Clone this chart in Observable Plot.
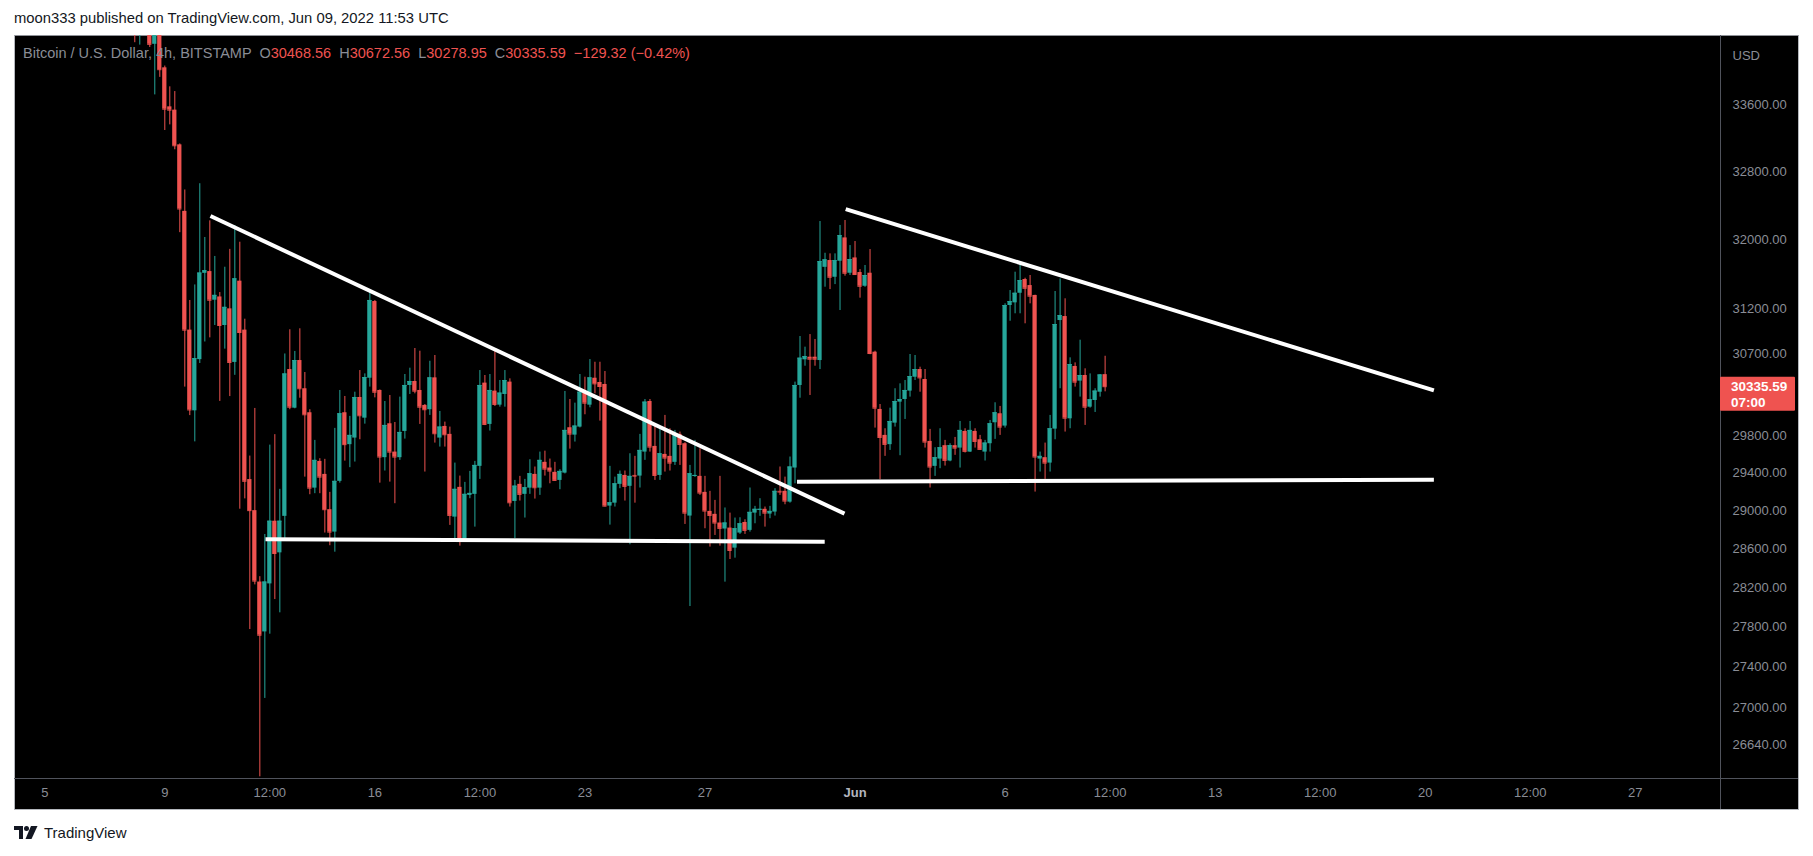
<!DOCTYPE html>
<html>
<head>
<meta charset="utf-8">
<script src="https://cdn.jsdelivr.net/npm/d3@7"></script>
<script src="https://cdn.jsdelivr.net/npm/@observablehq/plot@0.6"></script>
<style>
  html, body { margin: 0; padding: 0; background: #ffffff; overflow: hidden; }
  body { width: 1813px; height: 856px; position: relative; font-family: "Liberation Sans", Arial, sans-serif; }
  #header { position: absolute; left: 14px; top: 9px; font-size: 14.8px; line-height: 18px; color: #131722; white-space: pre; }
  #pane { position: absolute; left: 14px; top: 35px; width: 1783px; height: 773px; background: #000; border: 1px solid #b4b7bd; border-top-color: #8f9298; }
  .divider { position: absolute; background: #50535c; }
  #chart { position: absolute; left: 0; top: 35px; }
  #legend { position: absolute; left: 23px; top: 44px; font-size: 14.5px; line-height: 18px; color: #8a8d96; white-space: pre; }
  #legend .v { color: #ef5350; }
  #footer { position: absolute; left: 14px; top: 823px; height: 18px; display: flex; align-items: center; gap: 6px; font-size: 15px; color: #131722; }
</style>
</head>
<body>
<div id="header">moon333 published on TradingView.com, Jun 09, 2022 11:53 UTC</div>
<div id="pane"></div>
<div class="divider" style="left:1720px;top:35px;width:1px;height:774px"></div>
<div class="divider" style="left:14px;top:778px;width:1784px;height:1px"></div>
<div id="chart"></div>
<div id="legend"></div>
<div id="footer">
  <svg width="24" height="13" viewBox="0 0 24 13"><path d="M0 0H9V13H5V4H0Z" fill="#131722"/><circle cx="12.5" cy="2.5" r="2.5" fill="#131722"/><path d="M17 0H23.5L17.5 13H11.5Z" fill="#131722"/></svg>
  <span>TradingView</span>
</div>
<script>
// ---- Data (4h candles, BTC/USD Bitstamp) ----
const symbolName = "Bitcoin / U.S. Dollar, 4h, BITSTAMP";
const barStart = "2022-05-08T00:00:00Z";
const barHours = 4;
const countdown = "07:00";

const opens = [
  34800, 34550, 34750, 34600, 34350, 34500, // May 8
  34058, 33579, 33539, 33119, 32329, 30965, // May 9
  30071, 30635, 31610, 31630, 31303, 31340, // May 10
  31017, 31205, 30604, 31520, 30965, 29330, // May 11
  29001, 28259, 27752, 28240, 28890, 28560, // May 12
  28941, 30525, 30100, 30625, 30313, 30050, // May 13
  29239, 29524, 29385, 29011, 28776, 29311, // May 14
  30050, 29704, 29775, 30217, 29991, 30429, // May 15
  31288, 30294, 29564, 29930, 29624, 29564, // May 16
  29847, 30349, 30393, 30294, 30130, 30083, // May 17
  30433, 29775, 29901, 29815, 28933, 29247, // May 18
  28682, 29162, 29173, 29471, 30375, 29923, // May 19
  30287, 30133, 30250, 30386, 29098, 29279, // May 20
  29173, 29239, 29385, 29239, 29514, 29453, // May 21
  29407, 29321, 29399, 29887, 29807, 29894, // May 22
  30272, 30133, 30429, 30382, 30360, 29049, // May 23
  29080, 29279, 29374, 29258, 29374, 29367, // May 24
  29624, 30173, 29685, 29374, 29599, 29578, // May 25
  29514, 29815, 29714, 28944, 29364, 29364, // May 26
  29194, 28993, 28962, 28871, 28808, 28818, // May 27
  28609, 28766, 28877, 28794, 28975, 29004, // May 28
  29015, 28965, 28986, 29205, 29205, 29091, // May 29
  29453, 30349, 30633, 30662, 30662, 30625, // May 30
  31679, 31757, 31565, 31749, 32019, 31611, // May 31
  31787, 31619, 31462, 31611, 30718, 30086, // Jun 1
  29804, 29704, 29937, 30166, 30195, 30287, // Jun 2
  30440, 30525, 30415, 29739, 29471, 29549, // Jun 3
  29693, 29528, 29693, 29667, 29847, 29624, // Jun 4
  29847, 29757, 29624, 29714, 29941, 30039, // Jun 5
  29905, 31243, 31273, 31382, 31539, 31470, // Jun 6
  31357, 29549, 29564, 29506, 29872, 31073, // Jun 7
  31118, 29984, 30559, 30397, 30459, 30111, // Jun 8
  30184, 30275, 30468.56                    // Jun 9
];
const highs = [
  35100, 34900, 35000, 34700, 34650, 34600,
  34080, 33824, 33766, 33130, 32581, 31300,
  31477, 32655, 32024, 32218, 31804, 31390,
  31680, 31886, 32163, 31969, 31088, 29581,
  30097, 28314, 28751, 29699, 29812, 29226,
  30698, 30969, 30726, 30980, 30492, 30083,
  29750, 29553, 29546, 29194, 29880, 30294,
  30228, 30010, 30275, 30514, 30477, 31424,
  31300, 30300, 30173, 30239, 29944, 30221,
  30470, 30540, 30759, 30729, 30140, 30617,
  30681, 30064, 29948, 29894, 29506, 29367,
  29300, 29417, 29524, 30514, 30459, 30470,
  30737, 30404, 30514, 30422, 29321, 29364,
  29332, 29542, 29464, 29624, 29634, 29549,
  29514, 29435, 30283, 30195, 30155, 30470,
  30440, 30636, 30606, 30606, 30503, 29471,
  29356, 29421, 29421, 29606, 29578, 29815,
  30195, 30195, 29905, 29894, 30021, 29876,
  29858, 29840, 29725, 29481, 29750, 29660,
  29364, 29205, 29109, 29364, 29029, 28975,
  28923, 28926, 28905, 29240, 29046, 29127,
  29039, 29046, 29233, 29464, 29356, 29571,
  30386, 30893, 30774, 30915, 30860, 32210,
  31841, 31834, 31834, 32164, 32222, 31930,
  31977, 31653, 31700, 31884, 30729, 30140,
  29876, 30100, 30313, 30367, 30404, 30692,
  30681, 30551, 30525, 29869, 29671, 29876,
  29750, 29714, 29782, 29955, 29876, 29955,
  29876, 29804, 29750, 29966, 30159, 30119,
  31262, 31413, 31623, 31745, 31554, 31585,
  31360, 29624, 29721, 30021, 31402, 31546,
  31319, 30655, 30599, 30852, 30533, 30477,
  30313, 30470, 30672.56
];
const lows = [
  34370, 34340, 34480, 34310, 33725, 33940,
  33292, 33360, 33060, 32080, 30331, 30019,
  29734, 30592, 30832, 30878, 31017, 30174,
  30752, 30227, 30461, 29016, 29125, 27776,
  28230, 26330, 27090, 27729, 28080, 27945,
  28692, 30083, 30093, 30209, 29356, 29169,
  29180, 29180, 28766, 28634, 28567, 29292,
  29527, 29457, 29517, 29757, 29926, 30331,
  30213, 29292, 29421, 29303, 29074, 29535,
  29764, 30250, 30257, 29923, 29410, 30021,
  29721, 29678, 29678, 28846, 28707, 28630,
  28668, 29127, 28828, 29332, 29910, 29851,
  30119, 30111, 30111, 29039, 28707, 29102,
  28923, 29173, 29123, 29162, 29367, 29285,
  29311, 29222, 29390, 29656, 29732, 29885,
  30028, 30104, 30257, 29959, 29040, 28849,
  29039, 29233, 29102, 28644, 29080, 29240,
  29535, 29624, 29321, 29321, 29410, 29421,
  29481, 29481, 28856, 28009, 29353, 29162,
  28811, 28620, 28741, 28630, 28258, 28491,
  28505, 28752, 28752, 28776, 28863, 28941,
  28828, 28916, 28944, 29162, 29063, 29080,
  29285, 30209, 30562, 30239, 30562, 30525,
  31451, 31424, 31481, 31186, 31577, 31585,
  31585, 31326, 31450, 30690, 29883, 29328,
  29578, 29642, 29894, 29585, 29977, 30221,
  30404, 30275, 29667, 29240, 29364, 29446,
  29474, 29520, 29589, 29453, 29614, 29620,
  29667, 29642, 29528, 29624, 29761, 29804,
  29883, 31065, 31149, 31149, 31036, 31262,
  29197, 29410, 29332, 29410, 29757, 30313,
  29840, 29876, 30331, 30221, 29912, 30100,
  30053, 30221, 30278.95
];
const closes = [
  34600, 34750, 34600, 34350, 34500, 34035,
  33551, 33539, 33108, 32357, 30965, 30081,
  30647, 31613, 31640, 31303, 31358, 31017,
  31222, 30604, 31547, 30938, 29312, 29001,
  28269, 27719, 28259, 28890, 28553, 28890,
  30476, 30111, 30625, 30313, 30028, 29239,
  29535, 29356, 29011, 28776, 29311, 30039,
  29704, 29804, 30217, 30017, 30437, 31300,
  30275, 29571, 29912, 29624, 29571, 29836,
  30349, 30393, 30287, 30111, 30083, 30433,
  29822, 29894, 29811, 28951, 29226, 28682,
  29173, 29183, 29481, 30349, 29923, 30294,
  30141, 30265, 30404, 29084, 29260, 29173,
  29243, 29392, 29243, 29535, 29442, 29421,
  29321, 29417, 29858, 29818, 29905, 30275,
  30155, 30433, 30367, 30338, 29049, 29084,
  29285, 29385, 29258, 29364, 29367, 29642,
  30166, 29678, 29374, 29606, 29560, 29506,
  29815, 29707, 28975, 29392, 29374, 29187,
  28997, 28951, 28871, 28815, 28871, 28585,
  28811, 28863, 28794, 28983, 29015, 29015,
  28975, 28993, 29205, 29198, 29102, 29464,
  30349, 30651, 30670, 30640, 30640, 31745,
  31765, 31565, 31757, 32046, 31611, 31768,
  31596, 31462, 31585, 30703, 30100, 29782,
  29707, 29955, 30173, 30195, 30294, 30448,
  30525, 30433, 29732, 29464, 29564, 29671,
  29535, 29693, 29667, 29858, 29632, 29858,
  29739, 29653, 29721, 29930, 30050, 29894,
  31243, 31288, 31382, 31527, 31439, 31349,
  29571, 29578, 29506, 29876, 31028, 31129,
  29991, 30581, 30386, 30459, 30111, 30192,
  30287, 30464.91, 30335.59
];

// Drawn trendlines (white)
const trendFromTime  = ["2022-05-10T12:33Z", "2022-05-12T08:32Z", "2022-05-31T16:32Z", "2022-05-30T01:35Z"];
const trendFromPrice = [32274, 28701, 32355, 29308];
const trendToTime    = ["2022-05-31T15:35Z", "2022-05-30T23:44Z", "2022-06-20T06:56Z", "2022-06-20T06:56Z"];
const trendToPrice   = [28969, 28676, 30295, 29329];

// Axes
const yTicks = [33600, 32800, 32000, 31200, 30700, 29800, 29400, 29000, 28600, 28200, 27800, 27400, 27000, 26640];
const xTickTimes = ["2022-05-05T00:00Z","2022-05-09T00:00Z","2022-05-12T12:00Z","2022-05-16T00:00Z","2022-05-19T12:00Z","2022-05-23T00:00Z","2022-05-27T00:00Z","2022-06-01T00:00Z","2022-06-06T00:00Z","2022-06-09T12:00Z","2022-06-13T00:00Z","2022-06-16T12:00Z","2022-06-20T00:00Z","2022-06-23T12:00Z","2022-06-27T00:00Z"];
const xTickLabels = ["5","9","12:00","16","12:00","23","27","Jun","6","12:00","13","12:00","20","12:00","27"];
const xDomain = ["2022-05-03T23:48Z", "2022-06-29T20:09Z"];
const yDomain = [26314, 34460];

// ---- Build ----
const up = "#26a69a", down = "#ef5350";
const t0 = Date.parse(barStart);
const H = 3600e3;
const bars = opens.map((o, i) => ({
  t: new Date(t0 + i * barHours * H),
  open: o, high: highs[i], low: lows[i], close: closes[i]
}));
const col = d => (d.close >= d.open ? up : down);
const half = 1.7 * H;

const ticksX = xTickTimes.map((s, i) => ({date: new Date(s), label: xTickLabels[i]}));
const labelOf = new Map(ticksX.map(d => [+d.date, d.label]));
const trends = trendFromTime.map((s, i) => ({
  x1: new Date(s), y1: trendFromPrice[i], x2: new Date(trendToTime[i]), y2: trendToPrice[i]
}));

const W = 1813, Ht = 774, mL = 14, mR = 93, mT = 0, mB = 31;
const axisColor = "#8a8d96";

const chart = Plot.plot({
  width: W, height: Ht,
  marginLeft: mL, marginRight: mR, marginTop: mT, marginBottom: mB,
  style: {background: "transparent", color: axisColor, fontFamily: "Liberation Sans, Arial, sans-serif", fontSize: "13px", overflow: "visible"},
  x: {type: "utc", domain: xDomain.map(s => new Date(s))},
  y: {type: "log", domain: yDomain},
  color: {type: "identity"},
  marks: [
    Plot.ruleX(bars, {x: "t", y1: "low", y2: "high", stroke: col, strokeWidth: 1, clip: true}),
    Plot.rect(bars, {x1: d => new Date(+d.t - half), x2: d => new Date(+d.t + half), y1: "open", y2: "close", fill: col, clip: true}),
    Plot.ruleY(bars, {x1: d => new Date(+d.t - half), x2: d => new Date(+d.t + half), y: "close", stroke: col, strokeWidth: 1, clip: true}),
    Plot.link(trends, {x1: "x1", y1: "y1", x2: "x2", y2: "y2", stroke: "#ffffff", strokeWidth: 4, clip: true}),
    Plot.axisY(yTicks, {anchor: "right", tickSize: 0, tickPadding: 12, tickFormat: d => d.toFixed(2), fill: axisColor, fontSize: 13, label: null}),
    Plot.axisX(ticksX.filter(d => d.label !== "Jun").map(d => d.date), {anchor: "bottom", tickSize: 0, tickPadding: 9, tickFormat: d => labelOf.get(+d), fill: axisColor, fontSize: 13, label: null}),
    Plot.axisX(ticksX.filter(d => d.label === "Jun").map(d => d.date), {anchor: "bottom", tickSize: 0, tickPadding: 9, tickFormat: d => labelOf.get(+d), fill: "#b2b5be", fontWeight: "bold", fontSize: 13, label: null}),
    Plot.text(["USD"], {frameAnchor: "top-right", dx: 12, dy: 15, textAnchor: "start", fill: axisColor, fontSize: 13})
  ]
});
document.getElementById("chart").appendChild(chart);

// Last-price badge on the price scale
const last = bars[bars.length - 1];
const prev = bars[bars.length - 2];
const yPix = chart.scale("y").apply(last.close);
const xAxis = W - mR;
const badge = d3.select(chart).append("g").attr("text-anchor", "start");
badge.append("rect").attr("x", xAxis).attr("y", yPix - 9.5).attr("width", 75).attr("height", 34)
  .attr("fill", col(last)).attr("rx", 1);
badge.append("text").attr("x", xAxis + 11).attr("y", yPix).attr("dy", "0.35em").attr("text-anchor", "start")
  .attr("fill", "#fff").attr("font-weight", "bold").attr("font-size", 13.5).text(last.close.toFixed(2));
badge.append("text").attr("x", xAxis + 11).attr("y", yPix + 16).attr("dy", "0.35em").attr("text-anchor", "start")
  .attr("fill", "#fff").attr("font-weight", "bold").attr("font-size", 13.5).text(countdown);

// Legend line
const chg = last.close - prev.close;
const pct = chg / prev.close * 100;
const fmt = v => v.toFixed(2);
const minus = s => s.replace("-", "\u2212");
document.getElementById("legend").innerHTML =
  `${symbolName}  O<span class="v">${fmt(last.open)}</span>  H<span class="v">${fmt(last.high)}</span>  L<span class="v">${fmt(last.low)}</span>  C<span class="v">${fmt(last.close)}</span>  <span class="v">${minus(fmt(chg))} (${minus(fmt(pct))}%)</span>`;
</script>
</body>
</html>
